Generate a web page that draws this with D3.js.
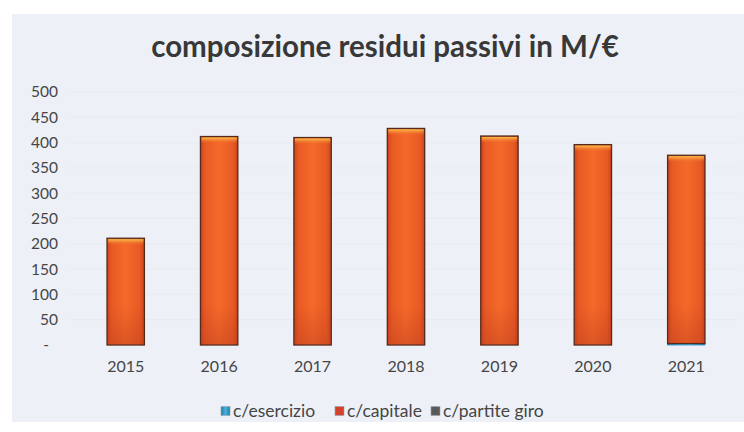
<!DOCTYPE html>
<html>
<head>
<meta charset="utf-8">
<script src="https://cdn.jsdelivr.net/npm/d3@7"></script>
<style>
  html, body { margin: 0; padding: 0; background: #ffffff; }
  svg { display: block; }
</style>
</head>
<body>
<svg id="chart" width="744" height="432"></svg>
<script>
// Residui passivi by year (M/€), split into three components
const years = ["2015", "2016", "2017", "2018", "2019", "2020", "2021"];
const esercizio = [0, 0, 0, 0, 0, 0, 3];
const capitale = [211, 412, 410, 428, 413, 396, 372];
const partiteGiro = [0, 0, 0, 0, 0, 0, 0];
const yTicks = [0, 50, 100, 150, 200, 250, 300, 350, 400, 450, 500];
const seriesNames = ["c/esercizio", "c/capitale", "c/partite giro"];

const FONT = "Lato, 'Open Sans', sans-serif";
const svg = d3.select("#chart");
const W = 744;

// chart frame
svg.append("rect").attr("x", 12).attr("y", 14).attr("width", W - 12).attr("height", 408)
  .attr("fill", "#edf1f7");

const defs = svg.append("defs");
function hGrad(id, stops) {
  const g = defs.append("linearGradient").attr("id", id)
    .attr("x1", "0").attr("x2", "1").attr("y1", "0").attr("y2", "0");
  stops.forEach(s => g.append("stop").attr("offset", s[0]).attr("stop-color", s[1]));
}
hGrad("gCap", [[0, "#cc421d"], [0.12, "#e85a24"], [0.5, "#f46a2a"], [0.88, "#e85a24"], [1, "#cc421d"]]);
hGrad("gEse", [[0, "#1f7fa8"], [0.5, "#4ab0dc"], [1, "#1f7fa8"]]);
hGrad("gGiro", [[0, "#3c3c3c"], [0.5, "#6e6e6e"], [1, "#3c3c3c"]]);
const vg = defs.append("linearGradient").attr("id", "gTop")
  .attr("x1", "0").attr("x2", "0").attr("y1", "0").attr("y2", "1");
vg.append("stop").attr("offset", 0).attr("stop-color", "#f8c44c").attr("stop-opacity", 0.95);
vg.append("stop").attr("offset", 1).attr("stop-color", "#f46a2a").attr("stop-opacity", 0);
const bg = defs.append("linearGradient").attr("id", "gBot")
  .attr("x1", "0").attr("x2", "0").attr("y1", "0").attr("y2", "1");
bg.append("stop").attr("offset", 0).attr("stop-color", "#b83a1e").attr("stop-opacity", 0);
bg.append("stop").attr("offset", 1).attr("stop-color", "#b83a1e").attr("stop-opacity", 0.4);

const x = d3.scaleBand().domain(years).range([79, 733]).paddingInner(0.6).paddingOuter(0.3);
const y = d3.scaleLinear().domain([0, 500]).range([345, 92]);

// faint gridlines
svg.append("g").selectAll("line").data(yTicks.slice(1)).join("line")
  .attr("x1", 70).attr("x2", 738)
  .attr("y1", d => y(d)).attr("y2", d => y(d))
  .attr("stroke", "#e7ebf1").attr("stroke-width", 1);

// y axis labels
const yAxis = d3.axisLeft(y).tickValues(yTicks).tickSize(0).tickPadding(0)
  .tickFormat(d => d === 0 ? "-" : d);
const yg = svg.append("g").attr("transform", "translate(58,0)").call(yAxis);
yg.select(".domain").remove();
yg.selectAll("text").attr("font-family", FONT).attr("font-size", 15.5)
  .attr("fill", "#454545");
yg.selectAll(".tick").filter(d => d === 0).select("text").attr("dx", -9);

// x axis labels
const xAxis = d3.axisBottom(x).tickSize(0).tickPadding(0);
const xg = svg.append("g").attr("transform", "translate(0,361)").call(xAxis);
xg.select(".domain").remove();
xg.selectAll("text").attr("font-family", FONT).attr("font-size", 16)
  .attr("fill", "#454545");

// stacked bars
const rows = years.map((yr, i) => ({ year: yr, esercizio: esercizio[i], capitale: capitale[i], giro: partiteGiro[i] }));
const stack = d3.stack().keys(["esercizio", "capitale", "giro"])(rows);
const fills = { esercizio: "url(#gEse)", capitale: "url(#gCap)", giro: "url(#gGiro)" };
const strokes = { esercizio: "#2a8fbf", capitale: "#552a1c", giro: "#333333" };

stack.forEach(layer => {
  const g = svg.append("g");
  const segs = layer.filter(d => d[1] - d[0] > 0);
  g.selectAll("rect.seg").data(segs).join("rect").attr("class", "seg")
    .attr("x", d => x(d.data.year)).attr("width", x.bandwidth())
    .attr("y", d => y(d[1])).attr("height", d => y(d[0]) - y(d[1]))
    .attr("fill", fills[layer.key])
    .attr("stroke", strokes[layer.key])
    .attr("stroke-width", layer.key === "capitale" ? 1.3 : 0.8);
  if (layer.key === "capitale") {
    // top highlight and bottom shading on each bar
    g.selectAll("rect.hl").data(segs).join("rect").attr("class", "hl")
      .attr("x", d => x(d.data.year) + 1).attr("width", x.bandwidth() - 2)
      .attr("y", d => y(d[1]) + 1).attr("height", 6)
      .attr("fill", "url(#gTop)");
    g.selectAll("rect.sh").data(segs).join("rect").attr("class", "sh")
      .attr("x", d => x(d.data.year) + 1).attr("width", x.bandwidth() - 2)
      .attr("y", d => y(d[0]) - 40).attr("height", 39)
      .attr("fill", "url(#gBot)");
  }
});

// title
svg.append("text").attr("x", 385).attr("y", 57).attr("text-anchor", "middle")
  .attr("font-family", FONT).attr("font-weight", "bold")
  .attr("font-size", 29.5).attr("fill", "#383838")
  .text("composizione residui passivi in M/€");

// legend
const legendX = [221, 335, 431];
const legendFill = ["url(#gEse)", "#d2412a", "#5a5a5a"];
const lg = svg.append("g").selectAll("g").data(seriesNames).join("g")
  .attr("transform", (d, i) => `translate(${legendX[i]},411)`);
lg.append("rect").attr("x", 0).attr("y", -4.5).attr("width", 9).attr("height", 9)
  .attr("fill", (d, i) => legendFill[i]).attr("stroke", "#9aa3b0").attr("stroke-width", 0.6);
lg.append("text").attr("x", 12).attr("y", 0).attr("dy", "0.35em")
  .attr("font-family", FONT).attr("font-size", 17.5)
  .attr("fill", "#454545").text(d => d);
</script>
</body>
</html>
